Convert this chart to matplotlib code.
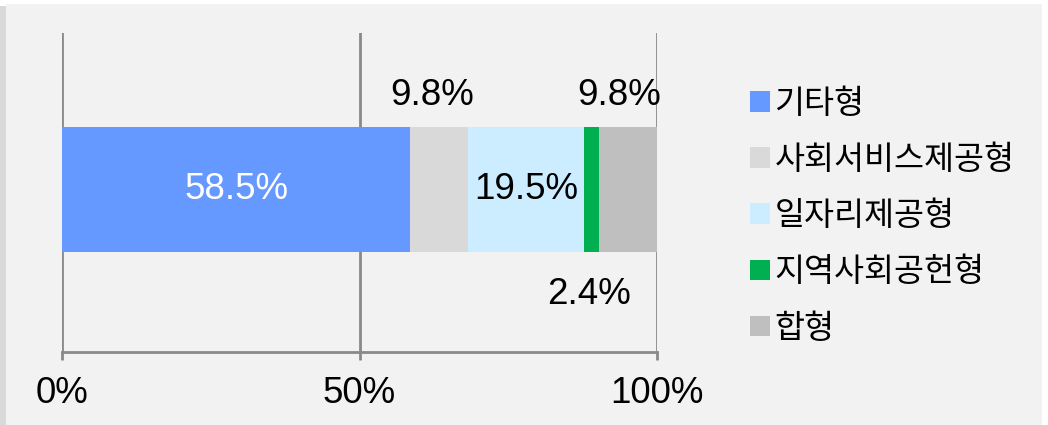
import matplotlib
matplotlib.use("Agg")
import matplotlib.pyplot as plt
from matplotlib.patches import Rectangle

categories = ["기타형", "사회서비스제공형", "일자리제공형", "지역사회공헌형", "합형"]
values = [58.5, 9.8, 19.5, 2.4, 9.8]
value_labels = ["58.5%", "9.8%", "19.5%", "2.4%", "9.8%"]
xticks = [0, 50, 100]
xtick_labels = ["0%", "50%", "100%"]

colors = ["#6699FF", "#D9D9D9", "#CCECFF", "#00B050", "#BFBFBF"]
# label placement style: (y position in axis data units, dx offset, color)
label_style = [(0.0, 0, "white"), (0.59, -1.2, "black"), (0.0, 0, "black"),
               (-0.66, -0.4, "black"), (0.59, -1.4, "black")]

W, H = 1048, 425
fig = plt.figure(figsize=(W / 100, H / 100), dpi=100)
fig.patch.set_facecolor("white")
# background panel and left shadow strip
fig.patches.append(Rectangle((6 / W, 0), (1042 - 6) / W, (H - 4) / H,
                             transform=fig.transFigure, facecolor="#F2F2F2",
                             edgecolor="none", zorder=-2))
fig.patches.append(Rectangle((0, 0), 6 / W, (H - 6) / H,
                             transform=fig.transFigure, facecolor="#D9D9D9",
                             edgecolor="none", zorder=-2))

ax = fig.add_axes([62 / W, (H - 352) / H, 595 / W, 319 / H])
ax.set_facecolor("none")

num_font = "Liberation Sans"
fs = 26.5
left = 0
handles = []
for cat, v, c in zip(categories, values, colors):
    b = ax.barh(0, v, left=left, height=0.784, color=c, edgecolor="none",
                label=cat, zorder=2)
    handles.append(b)
    left += v

left = 0
for v, lab, (yy, dx, tc) in zip(values, value_labels, label_style):
    ax.text(left + v / 2 + dx, yy, lab, ha="center", va="center",
            fontsize=fs, color=tc, family=num_font, zorder=3)
    left += v

ax.set_xlim(0, 100)
ax.set_ylim(-1.02, 0.98)
ax.set_yticks([])
ax.set_xticks(xticks)
ax.set_xticklabels(xtick_labels, fontsize=fs, family=num_font)
ax.tick_params(axis="x", length=6, width=2, color="#898989", pad=11)
for s in ["top", "left", "right"]:
    ax.spines[s].set_visible(False)
ax.spines["bottom"].set_color("#898989")
ax.spines["bottom"].set_linewidth(2)
ax.grid(axis="x", color="#898989", linewidth=2, zorder=1)
ax.set_axisbelow(True)

leg = fig.legend(handles=handles, labels=categories, loc="upper left",
                 bbox_to_anchor=(750 / W, (H - 88) / H), frameon=False,
                 prop={"family": ["Noto Sans CJK KR", "DejaVu Sans"], "size": 23.5},
                 handlelength=0.6, handleheight=0.6, handletextpad=0.15,
                 labelspacing=0.74, borderpad=0, borderaxespad=0)

fig.savefig("out.png", dpi=100, facecolor=fig.get_facecolor())
